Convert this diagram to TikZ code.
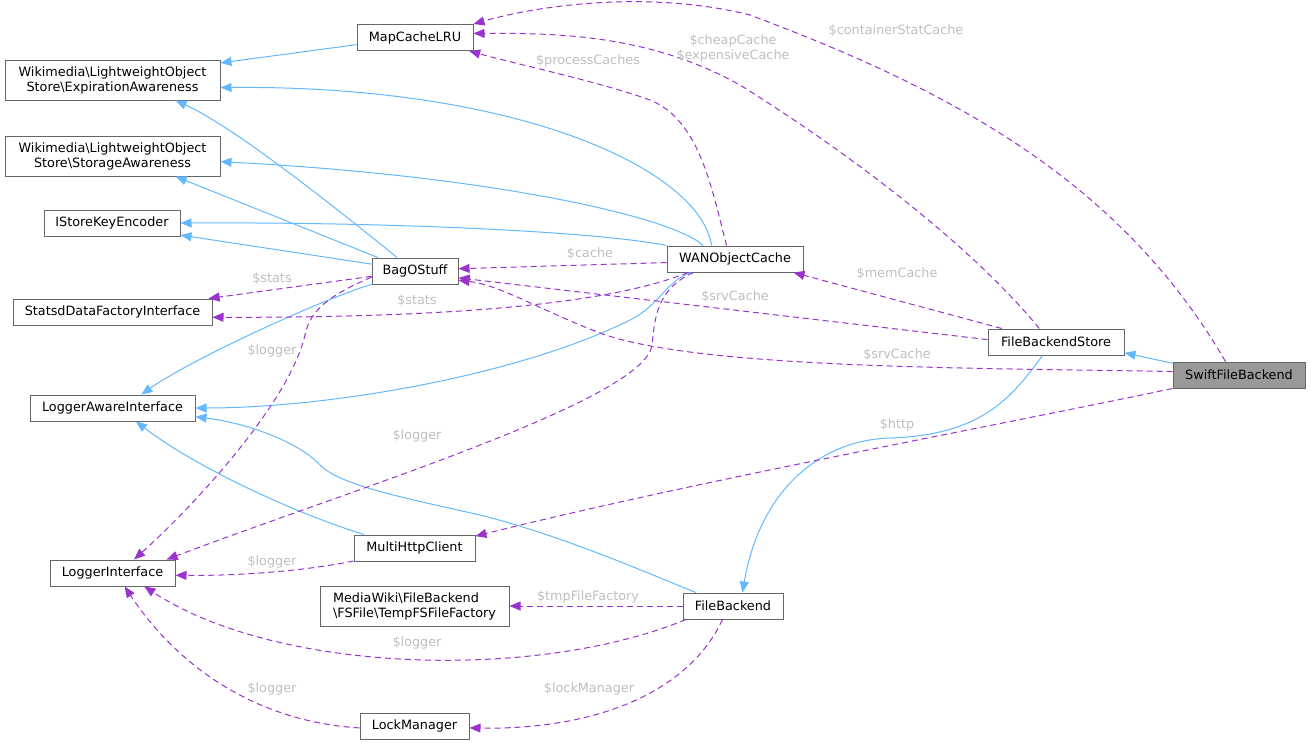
\documentclass[tikz,border=0pt]{standalone}
\usepackage{fontspec}
\setmainfont{DejaVu Sans}
\usetikzlibrary{arrows.meta}
\definecolor{inhblue}{HTML}{63B8FF}
\definecolor{usepurple}{HTML}{9A32CD}
\definecolor{boxgray}{HTML}{666666}
\definecolor{curgray}{HTML}{999999}
\definecolor{lblgray}{HTML}{BEBEBE}
\begin{document}
\begin{tikzpicture}[x=1pt,y=-1pt,
  font=\fontsize{12.8}{15}\selectfont,
  cls/.style={draw=boxgray,line width=1pt,fill=white,minimum height=26pt,inner xsep=4pt,inner ysep=3pt},
  cur/.style={cls,fill=curgray},
  inh/.style={draw=inhblue,line width=1pt,-{Triangle[length=11pt,width=9pt]}},
  usage/.style={draw=usepurple,line width=1pt,dash pattern=on 6pt off 4pt,-{Triangle[length=11pt,width=9pt,fill=usepurple]}},
  lbl/.style={text=lblgray,inner sep=1pt}]
\useasboundingbox (0,0) rectangle (1311,744);
\node[cls,minimum width=116pt] (mclru) at (415,37.5) {MapCacheLRU};
\node[cls,minimum width=215pt,minimum height=40pt,align=center] (expaw) at (112.5,80) {Wikimedia\textbackslash LightweightObject\\Store\textbackslash ExpirationAwareness};
\node[cls,minimum width=215pt,minimum height=40pt,align=center] (storaw) at (112.5,156) {Wikimedia\textbackslash LightweightObject\\Store\textbackslash StorageAwareness};
\node[cls,minimum width=136pt] (iske) at (112,223) {IStoreKeyEncoder};
\node[cls,minimum width=199pt] (statsd) at (112.5,312) {StatsdDataFactoryInterface};
\node[cls,minimum width=165pt] (lai) at (112.5,408) {LoggerAwareInterface};
\node[cls,minimum width=125pt] (li) at (112.5,573) {LoggerInterface};
\node[cls,minimum width=86pt] (bag) at (415,271) {BagOStuff};
\node[cls,minimum width=136pt] (wan) at (735,259) {WANObjectCache};
\node[cls,minimum width=136pt] (fbs) at (1056,342) {FileBackendStore};
\node[cur,minimum width=132pt] (swift) at (1239,375) {SwiftFileBackend};
\node[cls,minimum width=121pt] (mhc) at (414.5,548) {MultiHttpClient};
\node[cls,minimum width=189pt,minimum height=40pt,align=left] (tmpf) at (414.5,606) {MediaWiki\textbackslash FileBackend\\\textbackslash FSFile\textbackslash TempFSFileFactory};
\node[cls,minimum width=100pt] (fb) at (733,606) {FileBackend};
\node[cls,minimum width=109pt] (lm) at (414.5,726) {LockManager};

\draw[inh] (mclru.187) -- (expaw.9);
\draw[inh] (wan.150) .. controls (700,170) and (520,85) .. (expaw.-4);
\draw[inh] (bag.143) .. controls (320,195) and (230,125) .. (expaw.-18);
\draw[inh] (wan.157) .. controls (670,215) and (480,175) .. (storaw.-3);
\draw[inh] (bag.160) -- (storaw.-18);
\draw[inh] (wan.north west) .. controls (600,232) and (400,222) .. (iske.east);
\draw[inh] (bag.171) -- (iske.-10);
\draw[inh] (bag.197) .. controls (320,300) and (190,360) .. (lai.25);
\draw[inh] (wan.197) .. controls (665,282) and (660,305) .. (630,320) .. controls (520,375) and (330,408) .. (lai.east);
\draw[inh] (mhc.165) .. controls (300,515) and (200,470) .. (lai.-30);
\draw[inh] (fb.160) .. controls (640,570) and (560,535) .. (480,515) .. controls (400,497) and (340,485) .. (320,465) .. controls (305,448) and (260,425) .. (lai.-6);
\draw[inh] (fbs.225) .. controls (1010,400) and (980,435) .. (890,438) .. controls (820,440) and (760,490) .. (fb.55);
\draw[inh] (swift.170) -- (fbs.-9);

\draw[usage] (swift.135) .. controls (1120,180) and (950,90) .. (750,15) .. controls (650,-10) and (540,5) .. (mclru.13);
\node[lbl] (l1) at (896,31) {\$containerStatCache};
\draw[usage] (fbs.141) .. controls (975,250) and (860,160) .. (740,85) .. controls (650,35) and (560,33) .. (mclru.4);
\node[lbl,align=center] (l2) at (733,48) {\$cheapCache\\\$expensiveCache};
\draw[usage] (wan.122) .. controls (712,190) and (700,120) .. (650,100) .. controls (600,82) and (520,65) .. (mclru.-14);
\node[lbl] (l3) at (588,61) {\$processCaches};
\draw[usage] (wan.183) -- (bag.3);
\node[lbl] (l4) at (590,254) {\$cache};
\draw[usage] (fbs.166) -- (wan.-13);
\node[lbl] (l5) at (897,274) {\$memCache};
\draw[usage] (fbs.178) -- (bag.-9);
\node[lbl] (l6) at (735,297) {\$srvCache};
\draw[usage] (swift.177) .. controls (1000,368) and (700,370) .. (600,333) .. controls (540,310) and (500,285) .. (bag.-12);
\node[lbl] (l7) at (897,355) {\$srvCache};
\draw[usage] (bag.187) -- (statsd.8);
\node[lbl] (l8) at (272,279) {\$stats};
\draw[usage] (wan.196) .. controls (620,300) and (480,318) .. (statsd.-3);
\node[lbl] (l9) at (417,301) {\$stats};
\draw[usage] (bag.188) .. controls (330,295) and (310,310) .. (305,335) .. controls (290,400) and (200,500) .. (li.32);
\node[lbl] (l10) at (272,351) {\$logger};
\draw[usage] (wan.198) .. controls (655,290) and (655,320) .. (652,345) .. controls (645,400) and (350,490) .. (li.14);
\node[lbl] (l11) at (417,436) {\$logger};
\draw[usage] (mhc.192) .. controls (300,572) and (230,576) .. (li.-2);
\node[lbl] (l12) at (272,562) {\$logger};
\draw[usage] (fb.196) .. controls (540,680) and (280,675) .. (li.-23);
\node[lbl] (l13) at (417,643) {\$logger};
\draw[usage] (lm.182) .. controls (260,722) and (180,670) .. (li.-48);
\node[lbl] (l14) at (272,689) {\$logger};
\draw[usage] (fb.west) -- (tmpf.east);
\node[lbl] (l15) at (588,597) {\$tmpFileFactory};
\draw[usage] (fb.232) .. controls (690,690) and (600,730) .. (lm.-2);
\node[lbl] (l16) at (589,689) {\$lockManager};
\draw[usage] (swift.south west) .. controls (1000,425) and (700,480) .. (mhc.11);
\node[lbl] (l17) at (897,425) {\$http};
\end{tikzpicture}
\end{document}
